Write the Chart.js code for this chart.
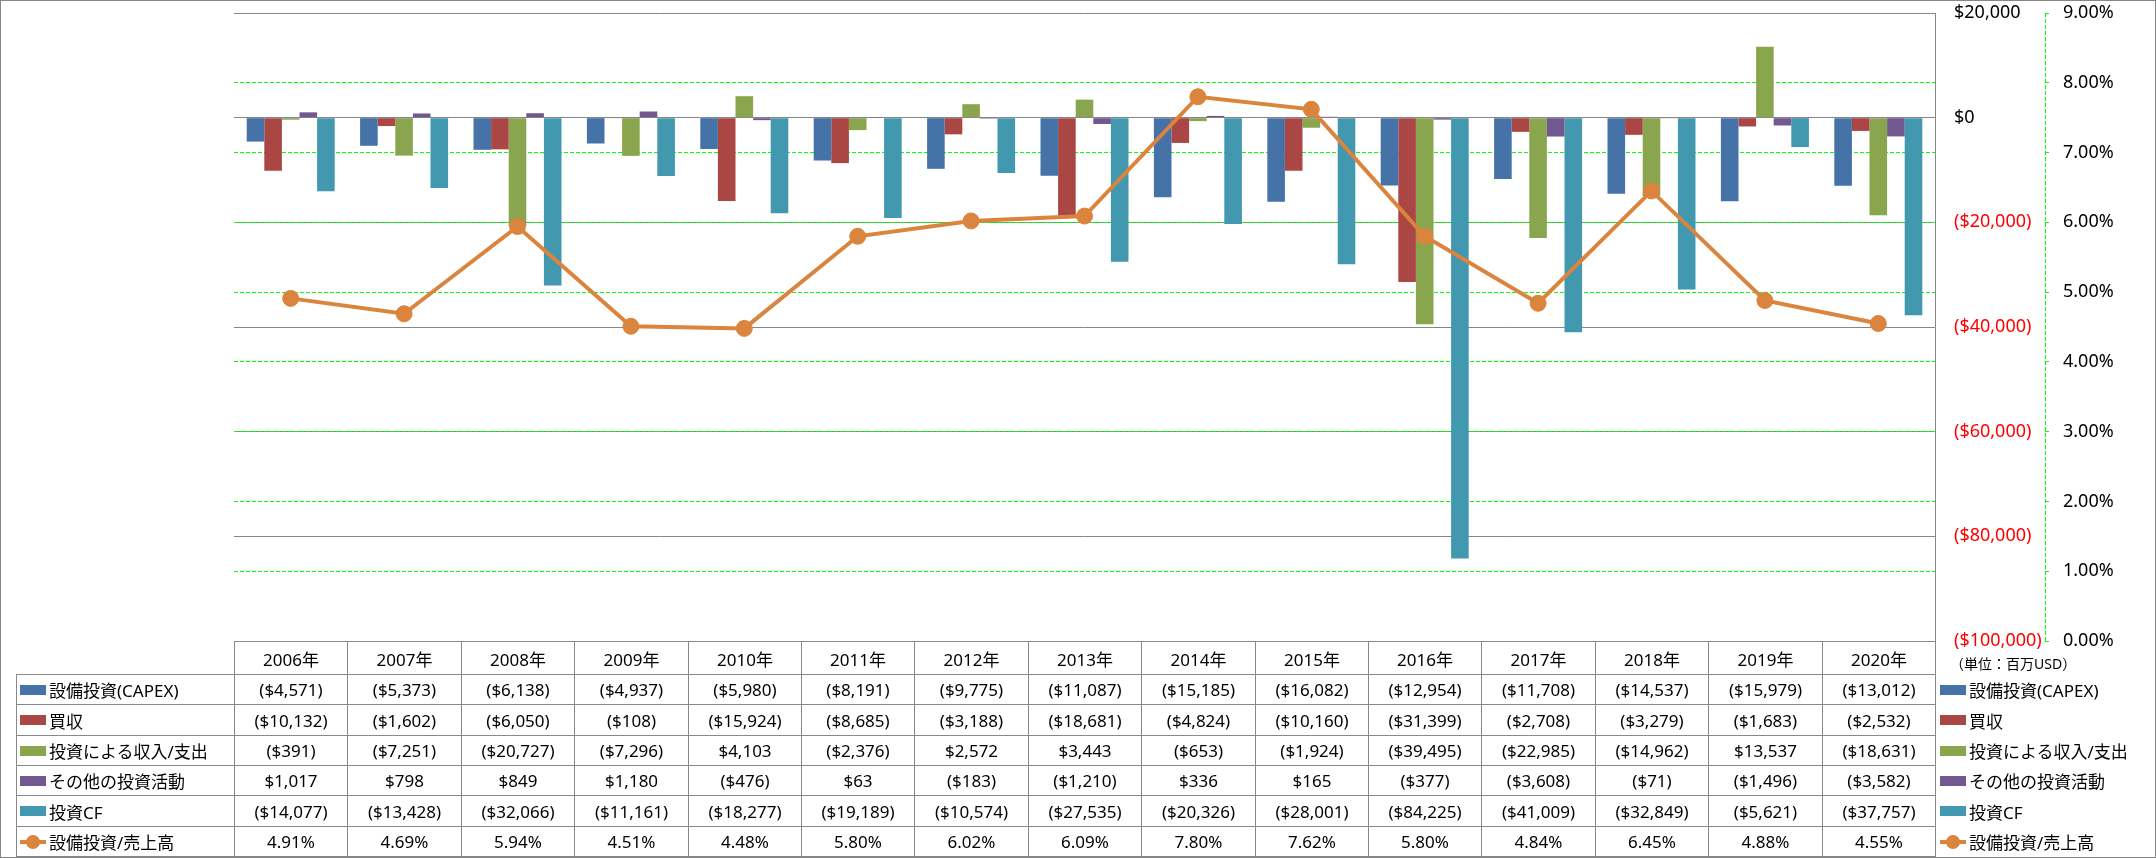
<!DOCTYPE html>
<html>
<head>
<meta charset="utf-8">
<script src="https://cdn.jsdelivr.net/npm/chart.js@4.4.1/dist/chart.umd.min.js"></script>
<style>
    html, body { margin: 0; padding: 0; background: #fff; }
    #wrap {
        position: relative; width: 2156px; height: 858px; overflow: hidden;
        font-family: 'Noto Sans', 'Noto Sans CJK JP', sans-serif; color: #000;
    }
    #chart { position: absolute; left: 0; top: 0; }
    #frame {
        position: absolute; left: 0; top: 0; width: 2154px; height: 856px;
        border: 1px solid #868686; pointer-events: none;
    }
    .cell {
        position: absolute; box-sizing: border-box; border: 1px solid #898989;
        display: flex; align-items: center; justify-content: center;
        font-size: 17px; white-space: nowrap; background: transparent;
    }
    .cell.label { justify-content: flex-start; padding-left: 3px; }
    .key { display: inline-block; width: 26px; height: 10px; margin-right: 3px; flex: none; }
    .lkey { position: relative; display: inline-block; width: 26px; height: 16px; margin-right: 3px; flex: none; }
    .lkey i { position: absolute; left: 0; top: 6px; width: 26px; height: 4px; }
    .lkey b { position: absolute; left: 6px; top: 1px; width: 14px; height: 14px; border-radius: 50%; }
    .leg {
        position: absolute; display: flex; align-items: center;
        font-size: 17px; white-space: nowrap;
    }
    #unit { position: absolute; font-size: 14px; white-space: nowrap; }
</style>
</head>
<body>
<div id="wrap">
    <canvas id="chart" width="2156" height="858"></canvas>
    <div id="table"></div>
    <div id="frame"></div>
</div>
<script>
// ---- データ ----
const years = ['2006年', '2007年', '2008年', '2009年', '2010年', '2011年', '2012年', '2013年',
               '2014年', '2015年', '2016年', '2017年', '2018年', '2019年', '2020年'];

const capex    = [-4571, -5373, -6138, -4937, -5980, -8191, -9775, -11087, -15185, -16082, -12954, -11708, -14537, -15979, -13012];
const acquire  = [-10132, -1602, -6050, -108, -15924, -8685, -3188, -18681, -4824, -10160, -31399, -2708, -3279, -1683, -2532];
const invIncome = [-391, -7251, -20727, -7296, 4103, -2376, 2572, 3443, -653, -1924, -39495, -22985, -14962, 13537, -18631];
const otherInv = [1017, 798, 849, 1180, -476, 63, -183, -1210, 336, 165, -377, -3608, -71, -1496, -3582];
const investCF = [-14077, -13428, -32066, -11161, -18277, -19189, -10574, -27535, -20326, -28001, -84225, -41009, -32849, -5621, -37757];
const capexRatio = [4.91, 4.69, 5.94, 4.51, 4.48, 5.80, 6.02, 6.09, 7.80, 7.62, 5.80, 4.84, 6.45, 4.88, 4.55];

const seriesNames = ['設備投資(CAPEX)', '買収', '投資による収入/支出', 'その他の投資活動', '投資CF', '設備投資/売上高'];
const seriesColors = ['#4572A7', '#AA4643', '#89A54E', '#71588F', '#4198AF', '#DB843D'];
const unitNote = '（単位：百万USD）';

const FONT = "'Noto Sans', 'Noto Sans CJK JP', sans-serif";

function fmtMoney(v) {
    const s = '$' + Math.abs(v).toLocaleString('en-US');
    return v < 0 ? '(' + s + ')' : s;
}
function fmtPct(v) {
    return v.toFixed(2) + '%';
}

// 軸の幅を固定し、ラベル分の上下余白は取らない
function fixAxis(s) {
    s.width = 110;
    s.paddingTop = 0;
    s.paddingBottom = 0;
}

// 第2軸の破線（軸線）
const secondAxisLine = {
    id: 'secondAxisLine',
    afterDraw(chart) {
        const s = chart.scales.y2;
        const ctx = chart.ctx;
        ctx.save();
        ctx.strokeStyle = '#00ff00';
        ctx.lineWidth = 1;
        ctx.setLineDash([4, 2]);
        ctx.beginPath();
        ctx.moveTo(Math.round(s.left) + 0.5, s.top);
        ctx.lineTo(Math.round(s.left) + 0.5, s.bottom);
        ctx.stroke();
        ctx.restore();
    }
};

const barData = [capex, acquire, invIncome, otherInv, investCF];

const datasets = [{
    type: 'line',
    label: seriesNames[5],
    data: capexRatio,
    yAxisID: 'y2',
    borderColor: seriesColors[5],
    backgroundColor: seriesColors[5],
    borderWidth: 4,
    pointRadius: 8,
    pointBorderWidth: 1,
    pointBackgroundColor: seriesColors[5],
    pointBorderColor: seriesColors[5],
    tension: 0,
    order: 0
}];
barData.forEach((d, i) => {
    datasets.push({
        type: 'bar',
        label: seriesNames[i],
        data: d,
        yAxisID: 'y',
        backgroundColor: seriesColors[i],
        borderWidth: 0,
        barPercentage: 1,
        categoryPercentage: 0.776,
        order: 1
    });
});

const chart = new Chart(document.getElementById('chart'), {
    type: 'bar',
    data: { labels: years, datasets: datasets },
    options: {
        responsive: false,
        animation: false,
        devicePixelRatio: 1,
        events: [],
        layout: { padding: { left: 234, top: 13, right: 1, bottom: 217 } },
        plugins: {
            legend: { display: false },
            tooltip: { enabled: false },
            title: { display: false }
        },
        scales: {
            x: { display: false, offset: true },
            y: {
                position: 'right',
                min: -100000,
                max: 20000,
                ticks: {
                    stepSize: 20000,
                    padding: 19,
                    color: c => c.tick.value < 0 ? '#ff0000' : '#000000',
                    font: { size: 18, family: FONT },
                    callback: v => fmtMoney(v)
                },
                grid: { color: '#868686', lineWidth: 1, drawTicks: false },
                border: { display: true, color: '#868686', width: 1 },
                afterFit: fixAxis
            },
            y2: {
                position: 'right',
                min: 0,
                max: 9,
                ticks: {
                    stepSize: 1,
                    padding: 14,
                    color: '#000000',
                    font: { size: 18, family: FONT },
                    callback: v => fmtPct(v)
                },
                grid: {
                    color: c => (c.tick.value === 0 || c.tick.value === 9) ? 'rgba(0,0,0,0)' : '#00ff00',
                    lineWidth: 1,
                    drawTicks: true,
                    tickLength: 4,
                    tickColor: '#00ff00'
                },
                border: { display: false, dash: [4, 2] },
                afterFit: fixAxis
            }
        }
    },
    plugins: [secondAxisLine]
});

// ---- データテーブル ----
function buildTable() {
    const area = chart.chartArea;
    const xs = chart.scales.x;
    const holder = document.getElementById('table');
    const n = years.length;
    const band = (area.right - area.left) / n;
    const edges = [];
    for (let i = 0; i <= n; i++) {
        const c = i < n ? xs.getPixelForValue(i) - band / 2 : xs.getPixelForValue(n - 1) + band / 2;
        edges.push(Math.round(c));
    }
    const headTop = Math.round(area.bottom);
    const headH = 33;
    const rowTop = headTop + headH;
    const rowH = (856 - rowTop) / 6;
    const labelLeft = 16;

    function addCell(x, y, w, h, html, cls) {
        const d = document.createElement('div');
        d.className = 'cell' + (cls ? ' ' + cls : '');
        d.style.left = x + 'px';
        d.style.top = y + 'px';
        d.style.width = w + 'px';
        d.style.height = h + 'px';
        d.innerHTML = html;
        holder.appendChild(d);
        return d;
    }

    function keyHtml(i) {
        if (i === 5) {
            return '<span class="lkey"><i style="background:' + seriesColors[5] + '"></i><b style="background:' +
                seriesColors[5] + '"></b></span>';
        }
        return '<span class="key" style="background:' + seriesColors[i] + '"></span>';
    }

    // 見出し行
    years.forEach((y, i) => {
        addCell(edges[i], headTop, edges[i + 1] - edges[i] + 1, headH + 1, y);
    });

    const rows = [capex, acquire, invIncome, otherInv, investCF, capexRatio];
    rows.forEach((vals, r) => {
        const top = Math.round(rowTop + r * rowH);
        const bot = Math.round(rowTop + (r + 1) * rowH);
        const h = bot - top + 1;
        addCell(labelLeft, top, edges[0] - labelLeft + 1, h,
            keyHtml(r) + '<span>' + seriesNames[r] + '</span>', 'label');
        vals.forEach((v, i) => {
            const txt = r === 5 ? fmtPct(v) : fmtMoney(v);
            addCell(edges[i], top, edges[i + 1] - edges[i] + 1, h, txt);
        });
        // 右側の凡例
        const lg = document.createElement('div');
        lg.className = 'leg';
        lg.style.left = (Math.round(area.right) + 5) + 'px';
        lg.style.top = top + 'px';
        lg.style.height = h + 'px';
        lg.innerHTML = keyHtml(r) + '<span>' + seriesNames[r] + '</span>';
        holder.appendChild(lg);
    });

    const u = document.createElement('div');
    u.id = 'unit';
    u.textContent = unitNote;
    u.style.left = (Math.round(area.right) + 15) + 'px';
    u.style.top = (headTop + 12) + 'px';
    holder.appendChild(u);
}
buildTable();
</script>
</body>
</html>
